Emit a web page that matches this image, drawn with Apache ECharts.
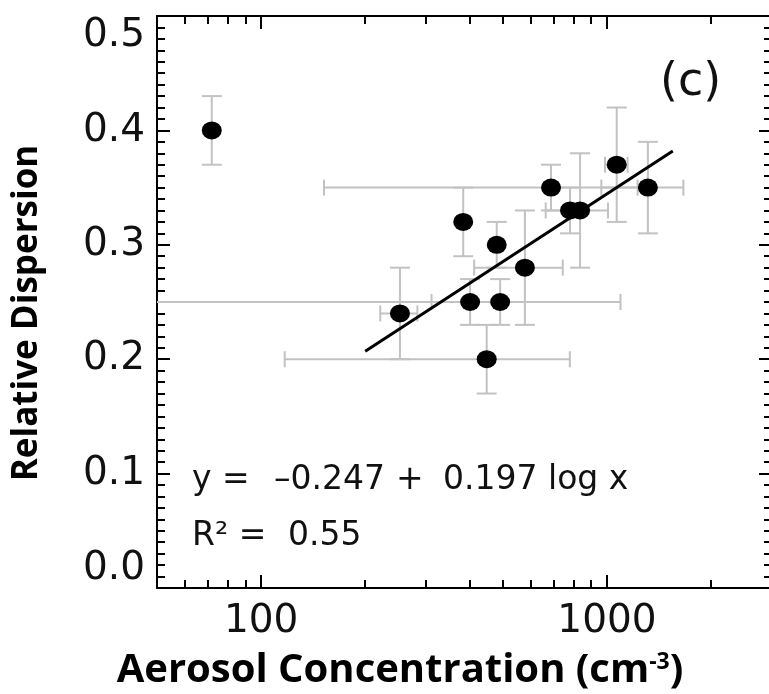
<!DOCTYPE html>
<html><head><meta charset="utf-8">
<script src="https://cdn.jsdelivr.net/npm/echarts@6/dist/echarts.min.js"></script>
<style>html,body{margin:0;padding:0;background:#fff}#c{width:769px;height:694px}</style>
</head><body><div id="c"></div>
<script>
// Data
const concentration = [72, 252, 384, 480, 402, 491, 579, 449, 689, 782, 836, 1067, 1313];
const dispersion    = [0.40, 0.24, 0.32, 0.30, 0.25, 0.25, 0.28, 0.20, 0.35, 0.33, 0.33, 0.37, 0.35];
const dispersionErr = [0.03, 0.04, 0.03, 0.02, 0.02, 0.02, 0.05, 0.03, 0.02, 0.02, 0.05, 0.05, 0.04];
const concentrationErr = [0, 31, 0, 0, 91, 603, 166, 332, 537, 0, 171, 80, 350];
const fitX = [200, 1550];
const fitY = [0.207, 0.382];
const xTickLabels = [100, 1000];
const yTickLabels = [0.0, 0.1, 0.2, 0.3, 0.4, 0.5];
const X_MIN = 50, X_MAX = 3000;

const chart = echarts.init(document.getElementById('c'), null, {renderer: 'canvas'});
const numFont = 'DejaVu Sans';
const tickStyle = {color: '#000', width: 2};

const errData = concentration.map((x, i) => [x, dispersion[i], concentrationErr[i], dispersionErr[i]]);
const pts = concentration.map((x, i) => [x, dispersion[i]]);
const fit = fitX.map((x, i) => [x, fitY[i]]);

function renderErr(params, api) {
  const x = api.value(0), y = api.value(1), ex = api.value(2), ey = api.value(3);
  const st = {stroke: '#c2c2c2', lineWidth: 2, fill: null};
  const ch = [];
  const seg = (a, b) => ch.push({type: 'line', shape: {x1: a[0], y1: a[1], x2: b[0], y2: b[1]}, style: st});
  if (ey > 0) {
    const t = api.coord([x, y + ey]), b = api.coord([x, y - ey]);
    seg(t, b);
    seg([t[0] - 10, t[1]], [t[0] + 10, t[1]]);
    seg([b[0] - 10, b[1]], [b[0] + 10, b[1]]);
  }
  if (ex > 0) {
    const r = api.coord([x + ex, y]);
    let l, lcap = true;
    if (x - ex > X_MIN) { l = api.coord([x - ex, y]); } else { l = api.coord([X_MIN, y]); lcap = false; }
    seg(l, r);
    seg([r[0], r[1] - 8], [r[0], r[1] + 8]);
    if (lcap) seg([l[0], l[1] - 8], [l[0], l[1] + 8]);
  }
  return {type: 'group', children: ch};
}

const xBase = {
  type: 'log', min: X_MIN, max: X_MAX, logBase: 10,
  axisLine: {show: true, onZero: false, lineStyle: {color: '#000', width: 2}},
  axisTick: {show: true, inside: true, length: 13, lineStyle: tickStyle},
  minorTick: {show: true, splitNumber: 9, length: 8, lineStyle: tickStyle},
  splitLine: {show: false}, minorSplitLine: {show: false}
};
const yBase = {
  type: 'value', min: 0, max: 0.5, interval: 0.1,
  axisLine: {show: true, onZero: false, lineStyle: {color: '#000', width: 2}},
  axisTick: {show: true, inside: true, length: 13, lineStyle: tickStyle},
  minorTick: {show: true, splitNumber: 10, length: 8, lineStyle: tickStyle},
  splitLine: {show: false}, minorSplitLine: {show: false}
};

chart.setOption({
  animation: false,
  backgroundColor: '#fff',
  grid: {left: 157, top: 16, width: 615, height: 572, containLabel: false, outerBoundsMode: 'none'},
  xAxis: [
    Object.assign({}, xBase, {
      position: 'bottom',
      axisLabel: {
        show: true, margin: 14, fontFamily: numFont, fontSize: 39, color: '#111',
        showMinLabel: false, showMaxLabel: false,
        formatter: v => (xTickLabels.indexOf(Math.round(v)) >= 0 ? String(Math.round(v)) : '')
      }
    }),
    Object.assign({}, xBase, {position: 'top', axisLabel: {show: false}})
  ],
  yAxis: [
    Object.assign({}, yBase, {
      position: 'left',
      axisLabel: {
        show: true, margin: 12, fontFamily: numFont, fontSize: 39, color: '#111',
        verticalAlignMinLabel: 'bottom', verticalAlignMaxLabel: 'top',
        formatter: v => (yTickLabels.some(t => Math.abs(t - v) < 1e-6) ? v.toFixed(1) : '')
      }
    }),
    Object.assign({}, yBase, {position: 'right', axisLabel: {show: false}})
  ],
  series: [
    {type: 'custom', xAxisIndex: 0, yAxisIndex: 0, renderItem: renderErr, data: errData, z: 2, silent: true},
    {type: 'line', xAxisIndex: 0, yAxisIndex: 0, data: fit, showSymbol: false, symbol: 'none',
     lineStyle: {color: '#000', width: 3}, z: 3, silent: true},
    {type: 'scatter', xAxisIndex: 0, yAxisIndex: 0, data: pts, symbol: 'circle', symbolSize: [20, 18],
     itemStyle: {color: '#000', opacity: 1}, z: 4, silent: true}
  ],
  graphic: [
    {type: 'text', x: 400, y: 671, style: {
      text: 'Aerosol Concentration (cm{sup|-3})', align: 'center', verticalAlign: 'middle',
      fontFamily: 'Open Sans', fontWeight: 'bold', fontSize: 40, fill: '#000',
      rich: {sup: {fontFamily: 'Open Sans', fontWeight: 'bold', fontSize: 23, verticalAlign: 'top', fill: '#000'}}
    }},
    {type: 'text', x: 27, y: 313, rotation: Math.PI / 2, style: {
      text: 'Relative Dispersion', align: 'center', verticalAlign: 'middle',
      fontFamily: 'Open Sans', fontWeight: 'bold', fontSize: 35, fill: '#000'
    }},
    {type: 'text', left: 660, top: 60, style: {text: '(c)', fontFamily: numFont, fontSize: 46, fill: '#111'}},
    {type: 'text', left: 192, top: 464, style: {text: 'y =', fontFamily: numFont, fontSize: 33, fill: '#111'}},
    {type: 'text', left: 274, top: 464, style: {text: '\u20130.247', fontFamily: numFont, fontSize: 33, fill: '#111'}},
    {type: 'text', left: 396, top: 464, style: {text: '+', fontFamily: numFont, fontSize: 33, fill: '#111'}},
    {type: 'text', left: 443, top: 464, style: {text: '0.197 log x', fontFamily: numFont, fontSize: 33, fill: '#111'}},
    {type: 'text', left: 192, top: 520, style: {text: 'R\u00b2 =', fontFamily: numFont, fontSize: 33, fill: '#111'}},
    {type: 'text', left: 288, top: 520, style: {text: '0.55', fontFamily: numFont, fontSize: 33, fill: '#111'}}
  ]
});
</script>
</body></html>
